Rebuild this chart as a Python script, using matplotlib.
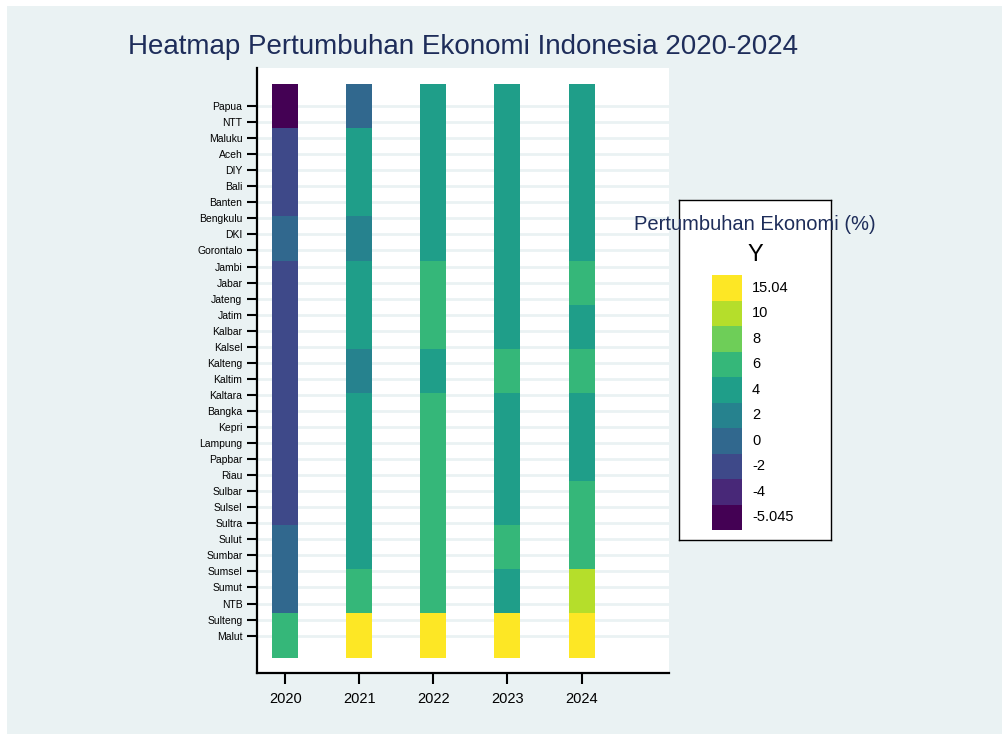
import numpy as np
import matplotlib.pyplot as plt
from matplotlib.colors import ListedColormap, BoundaryNorm
from matplotlib.patches import Rectangle

plt.rcParams['font.family'] = ['Liberation Sans', 'DejaVu Sans']

# province labels, top to bottom
provinces = ["Papua", "NTT", "Maluku", "Aceh", "DIY", "Bali", "Banten", "Bengkulu",
             "DKI", "Gorontalo", "Jambi", "Jabar", "Jateng", "Jatim", "Kalbar",
             "Kalsel", "Kalteng", "Kaltim", "Kaltara", "Bangka", "Kepri", "Lampung",
             "Papbar", "Riau", "Sulbar", "Sulsel", "Sultra", "Sulut", "Sumbar",
             "Sumsel", "Sumut", "NTB", "Sulteng", "Malut"]
years = [2020, 2021, 2022, 2023, 2024]

# binned growth values (13 bins along the province axis, top to bottom)
g2020 = [-4.5, -1.5, -1.5, 1.0, -1.5, -1.5, -1.5, -1.5, -1.5, -1.5, 1.0, 1.0, 7.0]
g2021 = [1.0, 5.0, 5.0, 3.0, 5.0, 5.0, 3.0, 5.0, 5.0, 5.0, 5.0, 7.0, 16.0]
g2022 = [5.0, 5.0, 5.0, 5.0, 7.0, 7.0, 5.0, 7.0, 7.0, 7.0, 7.0, 7.0, 16.0]
g2023 = [5.0, 5.0, 5.0, 5.0, 5.0, 5.0, 7.0, 5.0, 5.0, 5.0, 7.0, 5.0, 16.0]
g2024 = [5.0, 5.0, 5.0, 5.0, 7.0, 5.0, 7.0, 5.0, 5.0, 7.0, 7.0, 12.0, 16.0]

legend_labels = ["-5.045", "-4", "-2", "0", "2", "4", "6", "8", "10", "15.04"]
cuts = [-5.045, -4, -2, 0, 2, 4, 6, 8, 10, 15.04, 25]

colors = plt.cm.viridis(np.linspace(0, 1, 10))
cmap = ListedColormap(colors)
norm = BoundaryNorm(cuts, cmap.N)

bg = "#eaf2f3"
navy = "#1e2d5a"

fig = plt.figure(figsize=(10.03, 7.34), dpi=100)
fig.patches.append(Rectangle((7 / 1003, 0), 1, 728 / 734, transform=fig.transFigure,
                             facecolor=bg, edgecolor="none", zorder=-10))

ax = fig.add_axes([257 / 1003, 1 - 673 / 734, 412 / 1003, 605 / 734])
ax.set_facecolor("white")

z = np.array([g2020, g2021, g2022, g2023, g2024]).T
nb = z.shape[0]
ytop, ybot = -1.37, len(provinces) - 1 + 1.37
edges = np.linspace(ytop, ybot, nb + 1)
half = 0.175
for j, yr in enumerate(years):
    xe = [yr - half, yr + half]
    ax.pcolormesh(xe, edges, z[:, [j]], cmap=cmap, norm=norm, zorder=3)

ax.set_xlim(2019.62, 2025.18)
ax.set_ylim(len(provinces) - 1 + 2.33, -2.37)
ax.set_yticks(range(len(provinces)))
ax.set_yticklabels(provinces, fontsize=7.5)
ax.set_xticks(years)
ax.set_xticklabels([str(y) for y in years], fontsize=10.5)
ax.tick_params(axis="y", length=7.5, width=1.5, pad=3)
ax.tick_params(axis="x", length=8, width=1.5, pad=6)
for y in range(len(provinces)):
    ax.axhline(y, color=bg, lw=2, zorder=1)
for s in ["top", "right"]:
    ax.spines[s].set_visible(False)
ax.spines["left"].set_linewidth(1.6)
ax.spines["bottom"].set_linewidth(1.6)

fig.text(463 / 1003, 1 - 47 / 734, "Heatmap Pertumbuhan Ekonomi Indonesia 2020-2024",
         ha="center", va="center", fontsize=20, color=navy)

# legend
leg = fig.add_axes([679 / 1003, 1 - 540 / 734, 152 / 1003, 340 / 734])
leg.set_xlim(0, 152)
leg.set_ylim(340, 0)
leg.set_xticks([])
leg.set_yticks([])
for s in leg.spines.values():
    s.set_linewidth(1.0)
leg.text(76, 24, "Pertumbuhan Ekonomi (%)", ha="center", va="center",
         fontsize=14.5, color=navy, clip_on=False)
leg.text(76, 55, "Y", ha="center", va="center", fontsize=17)
ph = 25.5
for i, lab in enumerate(legend_labels[::-1]):
    y0 = 75 + i * ph
    leg.add_patch(Rectangle((33, y0), 30, ph, facecolor=colors[9 - i], edgecolor="none"))
    leg.text(73, y0 + ph / 2, lab, ha="left", va="center", fontsize=10.5)

fig.savefig("out.png", dpi=100, facecolor="white")
